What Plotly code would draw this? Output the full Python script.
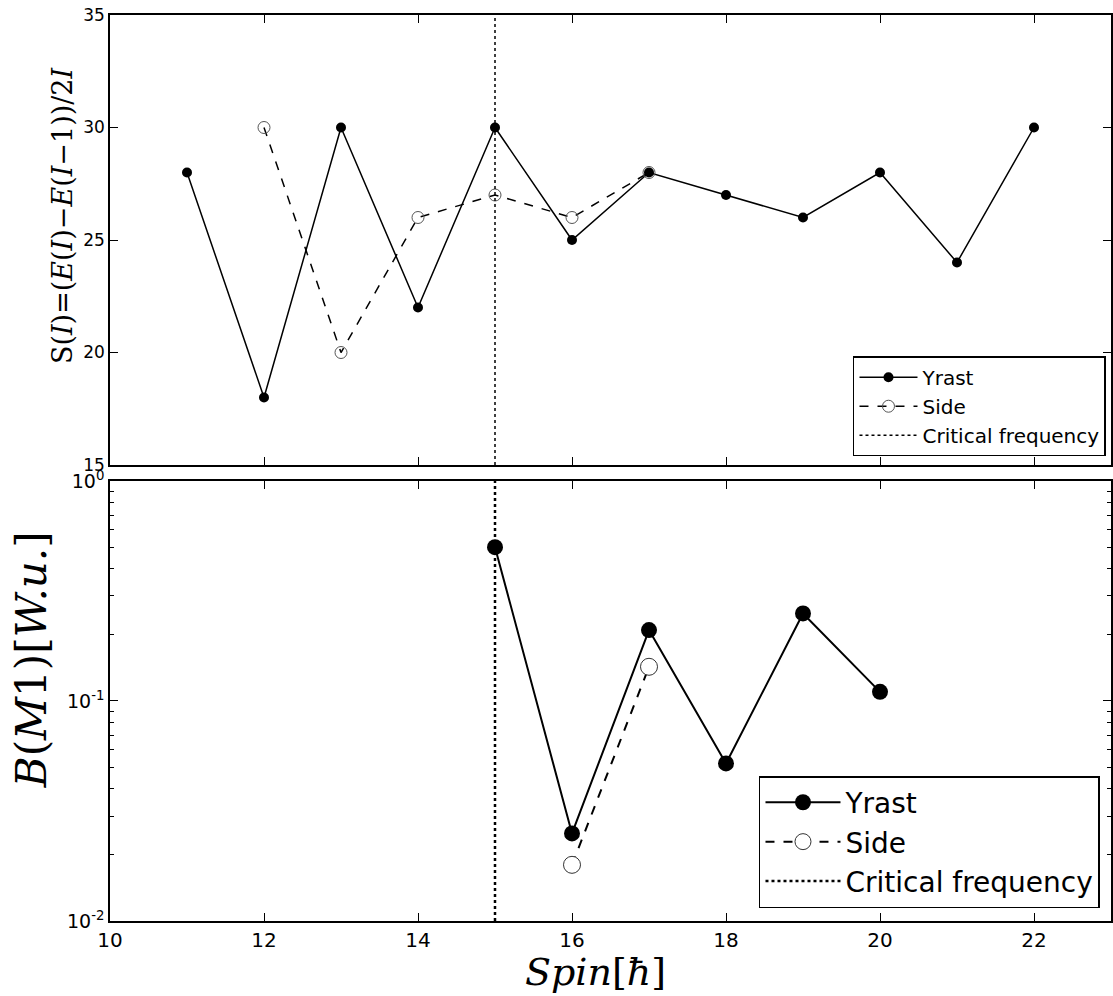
import plotly.graph_objects as go
from plotly.subplots import make_subplots

# ---- data ----
spin_yrast_top = [11, 12, 13, 14, 15, 16, 17, 18, 19, 20, 21, 22]
s_yrast = [28, 18, 30, 22, 30, 25, 28, 27, 26, 28, 24, 30]
spin_side_top = [12, 13, 14, 15, 16, 17]
s_side = [30, 20, 26, 27, 26, 28]

spin_yrast_bot = [15, 16, 17, 18, 19, 20]
bm1_yrast = [0.5, 0.025, 0.21, 0.052, 0.25, 0.11]
spin_side_bot = [16, 17]
bm1_side = [0.018, 0.143]

critical_spin = 15
top_yrange = [15, 35]
bot_yrange = [0.01, 1.0]

xticks = [10, 12, 14, 16, 18, 20, 22]
top_yticks = [15, 20, 25, 30, 35]
bot_yticks = [0.01, 0.1, 1]
bot_yticktext = ["10<sup>-2</sup>", "10<sup>-1</sup>", "10<sup>0</sup>"]
bot_minor = [m * d for d in (0.01, 0.1) for m in range(2, 10)]

top_ytitle = "S(<i>I</i>)=(<i>E</i>(<i>I</i>)−<i>E</i>(<i>I</i>−1))/2<i>I</i>"
bot_ytitle = "<i>B</i>(<i>M</i>1)[<i>W.u.</i>]"
xtitle = "<i>Spin</i>[<i>ħ</i>]"

fig = make_subplots(rows=2, cols=1, shared_xaxes=False)

# ---- top panel ----
fig.add_trace(go.Scatter(x=spin_yrast_top, y=s_yrast, mode="lines+markers", name="Yrast",
                         line=dict(color="black", width=1.5),
                         marker=dict(color="black", size=10), legend="legend"), row=1, col=1)
fig.add_trace(go.Scatter(x=spin_side_top, y=s_side, mode="lines+markers", name="Side",
                         line=dict(color="black", width=1.5, dash="dash"),
                         marker=dict(symbol="circle-open", color="#555", size=12, line=dict(width=1)),
                         legend="legend"), row=1, col=1)
fig.add_trace(go.Scatter(x=[critical_spin, critical_spin], y=top_yrange, mode="lines",
                         name="Critical frequency",
                         line=dict(color="black", width=1.5, dash="dot"), legend="legend"), row=1, col=1)

# ---- bottom panel ----
fig.add_trace(go.Scatter(x=spin_yrast_bot, y=bm1_yrast, mode="lines+markers", name="Yrast",
                         line=dict(color="black", width=2),
                         marker=dict(color="black", size=16), legend="legend2"), row=2, col=1)
fig.add_trace(go.Scatter(x=spin_side_bot, y=bm1_side, mode="lines+markers", name="Side",
                         line=dict(color="black", width=2, dash="dash"),
                         marker=dict(symbol="circle", color="white", size=17,
                                     line=dict(color="#333", width=1)),
                         legend="legend2"), row=2, col=1)
fig.add_trace(go.Scatter(x=[critical_spin, critical_spin], y=bot_yrange, mode="lines",
                         name="Critical frequency",
                         line=dict(color="black", width=2.5, dash="dot"), legend="legend2"), row=2, col=1)

axis_common = dict(showline=True, linecolor="black", linewidth=1.5, mirror="ticks",
                   ticks="inside", ticklen=8, tickwidth=1, tickcolor="black",
                   showgrid=False, zeroline=False)

fig.update_xaxes(range=[10, 23], tickvals=xticks,
                 tickfont=dict(family="DejaVu Sans", size=20, color="black"), **axis_common)
fig.update_xaxes(showticklabels=False, row=1, col=1)

fig.update_yaxes(range=top_yrange, tickvals=top_yticks, domain=[0.5033, 1.0],
                 tickfont=dict(family="DejaVu Sans", size=17, color="black"),
                 **axis_common, row=1, col=1)
fig.update_yaxes(type="log", range=[-2, 0], tickvals=bot_yticks, ticktext=bot_yticktext,
                 domain=[0.0, 0.4857],
                 tickfont=dict(family="DejaVu Sans", size=19, color="black"),
                 minor=dict(ticks="inside", ticklen=4, tickcolor="black", tickvals=bot_minor, showgrid=False),
                 **axis_common, row=2, col=1)

# axis titles as annotations (placed in pixels relative to the plot area)
W, H = 1113, 996
L, R, T, B = 110, 0, 15, 75
pw, ph = W - L - R, H - T - B

def px(xpix):
    return (xpix - L) / pw

def py(ypix):
    return (H - B - ypix) / ph

fig.add_annotation(text=top_ytitle, textangle=-90, x=px(62), y=py(215), xref="paper", yref="paper",
                   showarrow=False, xanchor="center", yanchor="middle",
                   font=dict(family="DejaVu Serif", size=27, color="black"))
fig.add_annotation(text=bot_ytitle, textangle=-90, x=px(31), y=py(660), xref="paper", yref="paper",
                   showarrow=False, xanchor="center", yanchor="middle",
                   font=dict(family="DejaVu Serif", size=42, color="black"))
fig.add_annotation(text=xtitle, x=px(596), y=py(972), xref="paper", yref="paper",
                   showarrow=False, xanchor="center", yanchor="middle",
                   font=dict(family="DejaVu Serif", size=38, color="black"))

fig.update_layout(
    width=W, height=H,
    margin=dict(l=L, r=R, t=T, b=B),
    plot_bgcolor="white", paper_bgcolor="white",
    legend=dict(x=0.995, y=0.513, xanchor="right", yanchor="bottom",
                bgcolor="white", bordercolor="black", borderwidth=1.5,
                font=dict(family="DejaVu Sans", size=20, color="black"),
                itemwidth=58, tracegroupgap=0),
    legend2=dict(x=0.989, y=0.0143, xanchor="right", yanchor="bottom",
                 bgcolor="white", bordercolor="black", borderwidth=1.5,
                 font=dict(family="DejaVu Sans", size=28, color="black"),
                 itemwidth=75, tracegroupgap=0),
    showlegend=True,
)

fig.write_html("out.html")
